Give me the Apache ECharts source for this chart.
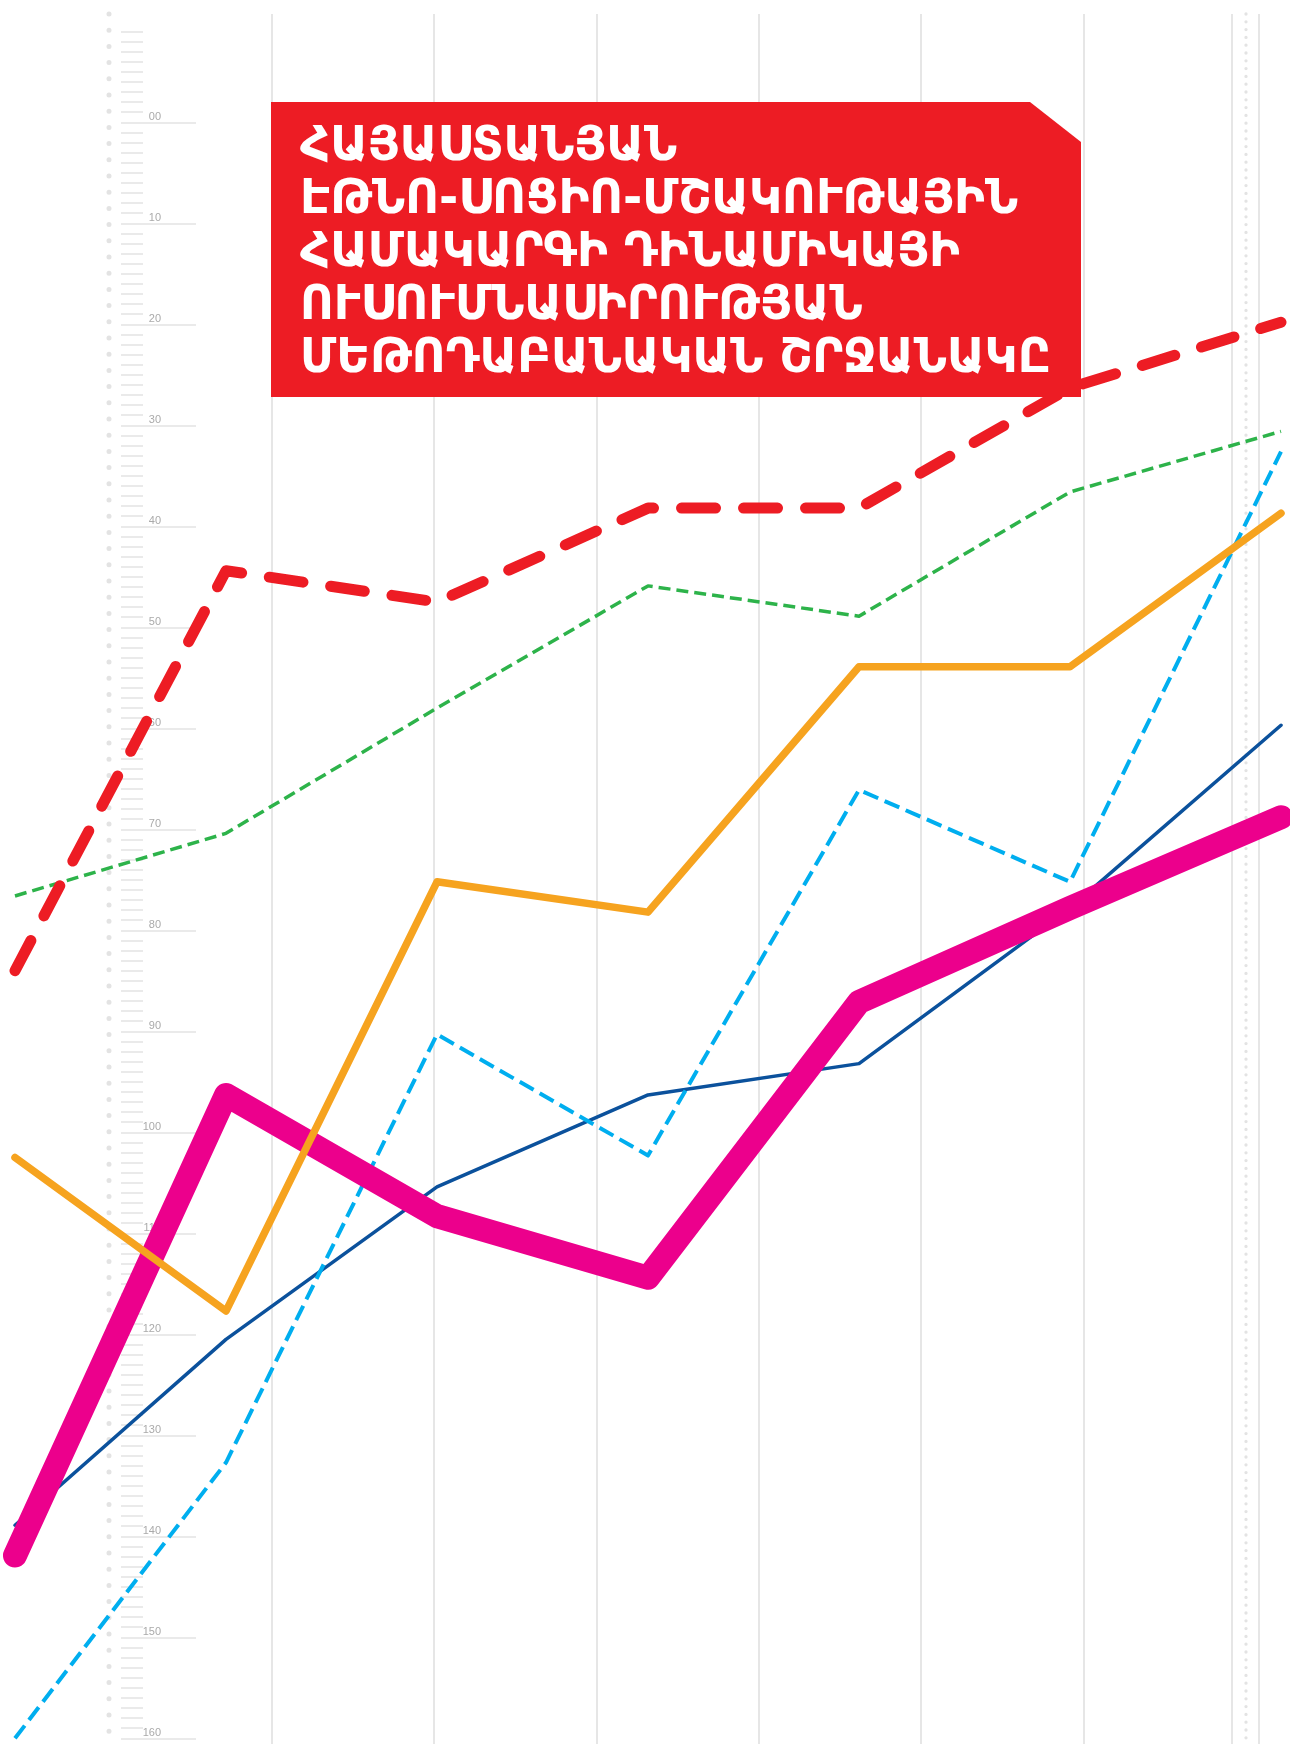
<!DOCTYPE html>
<html>
<head>
<meta charset="utf-8">
<script src="https://cdn.jsdelivr.net/npm/echarts@6/dist/echarts.min.js"></script>
<style>
  html, body { margin: 0; padding: 0; background: #fff; }
  #chart { width: 1290px; height: 1744px; }
</style>
</head>
<body>
<div id="chart"></div>
<script>
// 7 measurement steps along x
const steps = ['1', '2', '3', '4', '5', '6', '7'];

// series values, read on the ruler scale (00 at top, 160 at bottom)
const redDashed = [84.0, 44.4, 47.5, 38.2, 38.2, 26.3, 19.8];
const greenDashed = [76.6, 70.4, 58.0, 45.9, 48.9, 36.6, 30.6];
const orangeLine = [102.5, 117.7, 75.2, 78.2, 53.9, 53.9, 38.7];
const navyLine = [138.9, 120.5, 105.4, 96.3, 93.2, 77.8, 59.7];
const cyanDashed = [160.0, 132.7, 90.3, 102.3, 66.1, 75.2, 32.6];
const pinkLine = [141.9, 96.3, 108.3, 114.4, 87.1, 77.8, 68.8];

// ruler
const rulerMin = -9;
const rulerMax = 160;
const rulerMajor = 10;

const titleLines = [
  'ՀԱՅԱՍՏԱՆՅԱՆ',
  'ԷԹՆՈ-ՍՈՑԻՈ-ՄՇԱԿՈՒԹԱՅԻՆ',
  'ՀԱՄԱԿԱՐԳԻ ԴԻՆԱՄԻԿԱՅԻ',
  'ՈՒՍՈՒՄՆԱՍԻՐՈՒԹՅԱՆ',
  'ՄԵԹՈԴԱԲԱՆԱԿԱՆ ՇՐՋԱՆԱԿԸ'
];

const gridGray = '#e6e6e6';
const titleFont = '"DejaVu Sans Condensed", "DejaVu Sans", sans-serif';

// squeeze the title so the last line fills the red box like the print
const ctx = document.createElement('canvas').getContext('2d');
ctx.font = 'bold 48px ' + titleFont;
const titleScale = 751 / ctx.measureText(titleLines[4]).width;

const chart = echarts.init(document.getElementById('chart'));

function lineSeries(name, data, color, width, dash, cap, z) {
  return {
    name: name,
    type: 'line',
    xAxisIndex: 0,
    yAxisIndex: 0,
    data: data,
    symbol: 'none',
    clip: false,
    silent: true,
    z: z,
    lineStyle: {
      color: color,
      width: width,
      type: dash || 'solid',
      cap: cap || 'round',
      join: 'round'
    }
  };
}

const titleGraphics = titleLines.map(function (line, i) {
  return {
    type: 'text',
    x: 300,
    y: 148 + i * 53,
    scaleX: titleScale,
    z: 11,
    style: {
      text: line,
      fill: '#ffffff',
      fontSize: 48,
      fontWeight: 'bold',
      fontFamily: titleFont,
      verticalAlign: 'middle'
    }
  };
});

const option = {
  animation: false,
  backgroundColor: '#ffffff',
  grid: [
    // data
    {left: 15, right: 9, top: 31.4, bottom: 5.7, outerBoundsMode: 'none'},
    // minor ruler ticks
    {left: 121, width: 100, top: 31.4, bottom: 5.7, outerBoundsMode: 'none'},
    // major ruler ticks + labels
    {left: 121, width: 100, top: 122.3, bottom: 5.7, outerBoundsMode: 'none'},
    // vertical guide lines
    {left: 109, right: 44, top: 14, bottom: 0, outerBoundsMode: 'none'}
  ],
  xAxis: [
    {gridIndex: 0, type: 'category', boundaryGap: false, data: steps, show: false},
    {gridIndex: 1, type: 'value', show: false},
    {gridIndex: 2, type: 'value', show: false},
    {
      gridIndex: 3, type: 'value', min: 0, max: 7, interval: 1,
      axisLine: {show: false}, axisTick: {show: false}, axisLabel: {show: false},
      splitLine: {
        show: true,
        lineStyle: {
          width: 2,
          color: ['rgba(0,0,0,0)', gridGray, gridGray, gridGray, gridGray, gridGray, gridGray, 'rgba(0,0,0,0)']
        }
      }
    }
  ],
  yAxis: [
    {gridIndex: 0, type: 'value', min: rulerMin, max: rulerMax, inverse: true, show: false},
    {
      gridIndex: 1, type: 'value', min: rulerMin, max: rulerMax, interval: 1, inverse: true,
      axisLine: {show: false},
      axisTick: {show: true, inside: true, length: 22, lineStyle: {color: '#e3e3e3', width: 1.5}},
      axisLabel: {show: false},
      splitLine: {show: false}
    },
    {
      gridIndex: 2, type: 'value', min: 0, max: rulerMax, interval: rulerMajor, inverse: true,
      axisLine: {show: false},
      axisTick: {show: true, inside: true, length: 75, lineStyle: {color: '#e3e3e3', width: 1.5}},
      axisLabel: {
        show: true,
        inside: true,
        margin: 40,
        align: 'right',
        verticalAlign: 'bottom',
        color: '#aaaaaa',
        fontSize: 11,
        fontFamily: 'Liberation Sans, Arial, sans-serif',
        formatter: function (v) { return v === 0 ? '00' : String(v); }
      },
      splitLine: {show: false}
    },
    {gridIndex: 3, type: 'value', show: false}
  ],
  graphic: [
    // dotted ruler spine on the left
    {
      type: 'line', z: 0, silent: true,
      shape: {x1: 109, y1: 14, x2: 109, y2: 1744},
      style: {stroke: '#e3e3e3', lineWidth: 5, lineDash: [0, 16.2], lineCap: 'round'}
    },
    // dotted guide with its two thin companions on the right
    {
      type: 'line', z: 0, silent: true,
      shape: {x1: 1246, y1: 14, x2: 1246, y2: 1744},
      style: {stroke: '#e3e3e3', lineWidth: 3.3, lineDash: [0, 7.8], lineCap: 'round'}
    },
    {
      type: 'line', z: 0, silent: true,
      shape: {x1: 1232, y1: 14, x2: 1232, y2: 1744},
      style: {stroke: gridGray, lineWidth: 2}
    },
    {
      type: 'line', z: 0, silent: true,
      shape: {x1: 1259, y1: 14, x2: 1259, y2: 1744},
      style: {stroke: gridGray, lineWidth: 2}
    },
    // title panel
    {
      type: 'polygon', z: 10, silent: true,
      shape: {points: [[271, 102], [1030, 102], [1081, 142], [1081, 397], [271, 397]]},
      style: {fill: '#ed1c24'}
    }
  ].concat(titleGraphics),
  series: [
    lineSeries('navy', navyLine, '#0b519c', 3.5, 'solid', 'round', 2),
    lineSeries('cyan', cyanDashed, '#00aeef', 4, [16, 7], 'butt', 3),
    lineSeries('pink', pinkLine, '#ec008c', 24, 'solid', 'round', 4),
    lineSeries('green', greenDashed, '#2db34a', 3.5, [12, 6], 'butt', 5),
    lineSeries('orange', orangeLine, '#f6a31f', 7.5, 'solid', 'round', 6),
    lineSeries('red', redDashed, '#ed1c24', 11, [34, 28], 'round', 7)
  ]
};

chart.setOption(option);
</script>
</body>
</html>
